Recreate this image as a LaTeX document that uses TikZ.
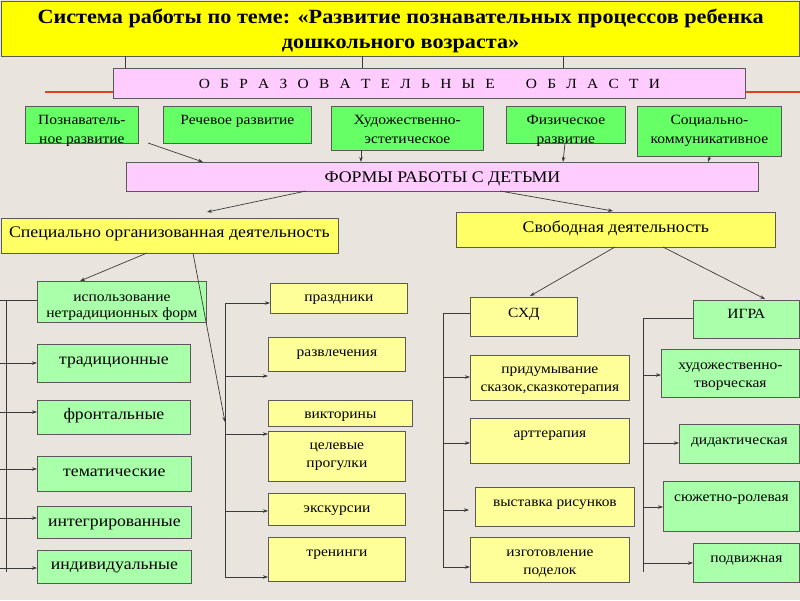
\documentclass[tikz,border=0pt]{standalone}
\usepackage{fontspec}
\setmainfont[FakeStretch=1.1]{Liberation Serif}
\usetikzlibrary{arrows.meta}
\definecolor{bgc}{HTML}{E9E5DE}
\definecolor{ttl}{HTML}{FFFF00}
\definecolor{pnk}{HTML}{FFCCFF}
\definecolor{grn}{HTML}{66FF66}
\definecolor{lgr}{HTML}{AAFFAA}
\definecolor{lyl}{HTML}{FFFF99}
\definecolor{myl}{HTML}{FFFF66}
\definecolor{bln}{HTML}{5A5A5A}
\definecolor{lnc}{HTML}{3A3A3A}
\definecolor{rdl}{HTML}{D9451F}
\newcommand\og{\hspace{10.3pt}}
\newcommand\ogw{\hspace{31pt}}
\begin{document}
\begin{tikzpicture}[x=1pt,y=-1pt,
  box/.style={draw=bln, line width=0.8pt, inner sep=0pt, align=center, anchor=north west},
  wh/.style 2 args={minimum width=#1, minimum height=#2},
  bl/.style={text height=#1pt, text depth=0pt},
  bu/.style={text height=0pt, text depth=#1pt},
  ft/.style={font=\fontsize{14.1}{19}\selectfont},
  fl/.style={font=\fontsize{16.1}{18}\selectfont},
  fm/.style={font=\fontsize{14.1}{18}\selectfont},
  fs/.style={font=\fontsize{14}{18}\selectfont},
  fb/.style={font=\fontsize{16.2}{18}\selectfont},
  ln/.style={draw=lnc, line width=0.7pt},
  arr/.style={ln, -{Stealth[length=5pt,width=3.5pt]}},
  red/.style={draw=rdl, line width=1.4pt}
]
\useasboundingbox (0,0) rectangle (800,600);
\fill[bgc] (0,0) rectangle (800,600);

% title
\node[box, fill=ttl, line width=1.2pt, wh={798}{55}, bl=39,
      font=\bfseries\fontsize{20.2}{25}\selectfont] (title) at (1,1)
  {Система работы по теме: «Развитие познавательных процессов ребенка\\дошкольного возраста»};

% educational areas
\node[box, fill=pnk, wh={632}{30}, bl=9.2, font=\fontsize{14}{16}\selectfont] (obl) at (113,68)
  {О\og Б\og Р\og А\og З\og О\og В\og А\og Т\og Е\og Л\og Ь\og Н\og Ы\og Е\ogw О\og Б\og Л\og А\og С\og Т\og И};

\node[box, fill=grn, wh={113}{37}, ft, bl=37] (poz) at (25,106) {Познаватель-\\ное развитие};
\node[box, fill=grn, wh={148}{37}, ft, bu=1.4] (rech) at (163,106) {Речевое развитие};
\node[box, fill=grn, wh={152}{44}, ft, bl=30.6] (xud) at (331,106) {Художественно-\\эстетическое};
\node[box, fill=grn, wh={119}{37}, ft, bl=37] (fiz) at (506,106) {Физическое\\развитие};
\node[box, fill=grn, wh={144}{50}, ft, bl=24.6] (soc) at (637,106) {Социально-\\коммуникативное};

\node[box, fill=pnk, wh={632}{29}, bl=11, fb] (forms) at (126,162) {ФОРМЫ РАБОТЫ С ДЕТЬМИ};

\node[box, fill=myl, wh={337}{35}, fb, bl=3] (spec) at (0.5,218) {Специально организованная деятельность};
\node[box, fill=myl, wh={319}{35}, fb, bl=5] (svob) at (456,212) {Свободная деятельность};

% left column
\node[box, fill=lgr, wh={169}{41}, font=\fontsize{14.1}{16}\selectfont, bl=30.6] (isp) at (37,281) {использование\\нетрадиционных форм};
\node[box, fill=lgr, wh={153}{38}, fl, bl=2] (trad) at (37,344) {традиционные};
\node[box, fill=lgr, wh={153}{34}, fl, bl=4] (front) at (37,400) {фронтальные};
\node[box, fill=lgr, wh={154}{35}, fl, bl=4.4] (tem) at (37,456) {тематические};
\node[box, fill=lgr, wh={154}{32}, fl, bl=7.4] (integ) at (37,506) {интегрированные};
\node[box, fill=lgr, wh={154}{33}, fl, bl=5] (indiv) at (37,550) {индивидуальные};

% middle column
\node[box, fill=lyl, wh={137}{30}, fm, bl=5.6] (praz) at (270,283) {праздники};
\node[box, fill=lyl, wh={137}{34}, fm, bl=3.6] (razv) at (268,337) {развлечения};
\node[box, fill=lyl, wh={144}{26}, fm, bl=9.6] (vikt) at (268,400) {викторины};
\node[box, fill=lyl, wh={137}{50}, fm, bl=21.6] (cel) at (268,431) {целевые\\прогулки};
\node[box, fill=lyl, wh={137}{32}, fm, bl=5.6] (eksk) at (268,493) {экскурсии};
\node[box, fill=lyl, wh={137}{44}, fm, bu=6.4] (tren) at (268,537) {тренинги};

% SHD column
\node[box, fill=lyl, wh={107}{39}, fs, bl=0.2] (sxd) at (470,297) {СХД};
\node[box, fill=lyl, wh={159}{45}, fs, bl=26.6] (prid) at (470,355) {придумывание\\сказок,сказкотерапия};
\node[box, fill=lyl, wh={159}{45}, fs, bu=7.4] (art) at (470,418) {арттерапия};
\node[box, fill=lyl, wh={159}{39}, fs, bu=1.4] (vyst) at (475,487) {выставка рисунков};
\node[box, fill=lyl, wh={159}{45}, fs, bl=28.6] (izg) at (470,537) {изготовление\\поделок};

% game column
\node[box, fill=lgr, wh={106}{38}, fm, bu=2.8] (igra) at (693,300) {ИГРА};
\node[box, fill=lgr, wh={138}{48}, fm, bl=27.6] (xt) at (661,349) {художественно-\\творческая};
\node[box, fill=lgr, wh={120}{39}, fm, bl=0.6] (did) at (679,424) {дидактическая};
\node[box, fill=lgr, wh={136}{50}, fm, bu=10.4] (sr) at (663,481) {сюжетно-ролевая};
\node[box, fill=lgr, wh={106}{39}, fm, bu=1.4] (podv) at (693,543) {подвижная};

% ticks and red lines
\coordinate (tk1) at (125,56);
\coordinate (tk2) at (362,56);
\coordinate (tk3) at (563,56);
\draw[ln] (tk1) -- (tk1 |- obl.north);
\draw[ln] (tk2) -- (tk2 |- obl.north);
\draw[ln] (tk3) -- (tk3 |- obl.north);
\coordinate (rl) at (45,92);
\coordinate (rr) at (800,92);
\draw[red] (rl) -- (rl -| obl.west);
\draw[red] (rr -| obl.east) -- (rr);

% arrows into forms
\coordinate (a1) at (148,143);
\coordinate (a1e) at (203,162);
\draw[arr] (a1) -- (a1e);
\coordinate (a2) at (361,150);
\draw[arr] (a2) -- (a2 |- forms.north);
\coordinate (a3) at (565,143);
\coordinate (a3e) at (563,162);
\draw[arr] (a3) -- (a3e);
\coordinate (a4) at (710,156);
\coordinate (a4e) at (708,162);
\draw[arr] (a4) -- (a4e);

% arrows from forms
\coordinate (f1) at (306,191);
\coordinate (f1e) at (207,212);
\draw[arr] (f1) -- (f1e);
\coordinate (f2) at (500,191);
\coordinate (f2e) at (613,211);
\draw[arr] (f2) -- (f2e);

% from spec
\coordinate (s1) at (147,253);
\coordinate (s1e) at (80,281);
\draw[arr] (s1) -- (s1e);
\coordinate (s2) at (193,253);
\coordinate (mt) at (225,422);
\draw[arr] (s2) -- (mt);

% from svob
\coordinate (v1) at (615,247);
\coordinate (v1e) at (530,296);
\draw[arr] (v1) -- (v1e);
\coordinate (v2) at (663,247);
\coordinate (v2e) at (765,299);
\draw[arr] (v2) -- (v2e);

% left trunk
\coordinate (lt1) at (6,300);
\coordinate (lt2) at (6,572);
\draw[ln] (lt1) -- (lt2);
\coordinate (l0) at (0,300);
\draw[ln] (l0) -- (l0 -| isp.west);
\coordinate (l1) at (0,363);
\coordinate (l2) at (0,412);
\coordinate (l3) at (0,469);
\coordinate (l4) at (0,518);
\coordinate (l5) at (0,568);
\draw[arr] (l1) -- (l1 -| trad.west);
\draw[arr] (l2) -- (l2 -| front.west);
\draw[arr] (l3) -- (l3 -| tem.west);
\draw[arr] (l4) -- (l4 -| integ.west);
\draw[arr] (l5) -- (l5 -| indiv.west);

% middle trunk
\coordinate (m0) at (225,303);
\coordinate (m9) at (225,577);
\draw[ln] (m0) -- (m9);
\coordinate (m2) at (225,376);
\coordinate (m3) at (225,434);
\coordinate (m4) at (225,511);
\draw[arr] (m0) -- (m0 -| praz.west);
\draw[arr] (m2) -- (m2 -| razv.west);
\draw[arr] (m3) -- (m3 -| cel.west);
\draw[arr] (m4) -- (m4 -| eksk.west);
\draw[arr] (m9) -- (m9 -| tren.west);

% SHD trunk
\coordinate (x0) at (443,313);
\coordinate (x9) at (443,567);
\draw[ln] (x0) -- (x9);
\draw[ln] (x0) -- (x0 -| sxd.west);
\coordinate (x1) at (443,377);
\coordinate (x2) at (443,443);
\coordinate (x3) at (443,510);
\coordinate (x3e) at (469,510);
\draw[arr] (x1) -- (x1 -| prid.west);
\draw[arr] (x2) -- (x2 -| art.west);
\draw[arr] (x3) -- (x3e);
\draw[arr] (x9) -- (x9 -| izg.west);

% game trunk
\coordinate (g0) at (643,318);
\coordinate (g9) at (643,572);
\draw[ln] (g0) -- (g9);
\draw[ln] (g0) -- (g0 -| igra.west);
\coordinate (g1) at (643,375);
\coordinate (g2) at (643,443);
\coordinate (g3) at (643,507);
\coordinate (g4) at (643,563);
\draw[arr] (g1) -- (g1 -| xt.west);
\draw[arr] (g2) -- (g2 -| did.west);
\draw[arr] (g3) -- (g3 -| sr.west);
\draw[arr] (g4) -- (g4 -| podv.west);
\end{tikzpicture}
\end{document}
